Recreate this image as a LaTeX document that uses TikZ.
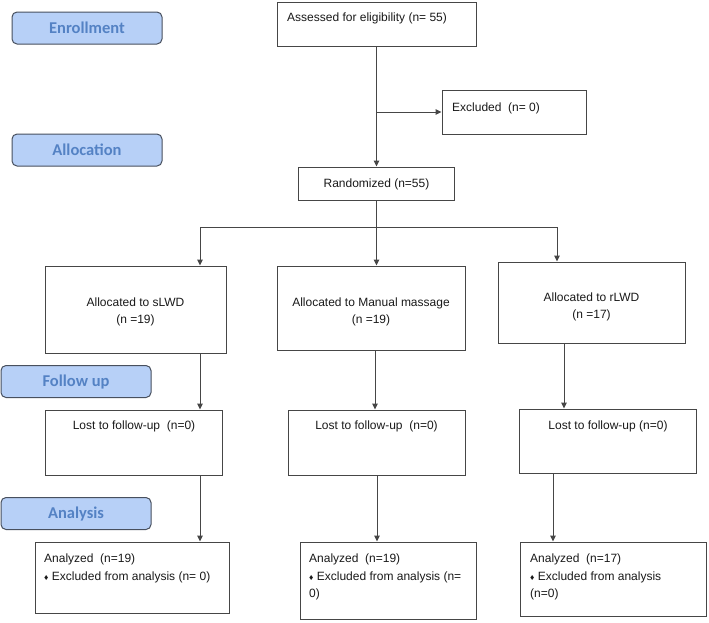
\documentclass[tikz,border=0pt]{standalone}
\usepackage{fontspec}
\setmainfont{Liberation Sans}
\newfontfamily\stagefont{Carlito}
\usetikzlibrary{arrows.meta}
\definecolor{lblfill}{RGB}{183,208,247}
\definecolor{lbltext}{RGB}{84,130,196}
\definecolor{lbldraw}{RGB}{72,80,94}
\definecolor{boxdraw}{RGB}{70,70,70}
\definecolor{txtcol}{RGB}{25,25,25}
\newcommand{\dmd}{{\fontsize{8.5}{8.5}\selectfont ♦}}
\begin{document}
\begin{tikzpicture}[x=1pt,y=-1pt,
  stage/.style={draw=lbldraw, fill=lblfill, rounded corners=5pt, line width=1pt,
    minimum width=150pt, minimum height=32pt, inner sep=0pt,
    font=\stagefont\bfseries\fontsize{16.5}{18}\selectfont, text=lbltext},
  box/.style={draw=boxdraw, line width=1pt, inner sep=0pt},
  txt/.style={font=\fontsize{12}{17}\selectfont, inner sep=0pt, text=txtcol},
  ctxt/.style={txt, anchor=base},
  ltxt/.style={txt, anchor=base west},
  arr/.style={draw=boxdraw, line width=1pt, -{Triangle[length=6pt,width=5.5pt]}},
  ln/.style={draw=boxdraw, line width=1pt}]
\useasboundingbox (0,0) rectangle (709,622);

% stage labels
\node[stage] (enroll) at (87,28) {Enrollment};
\node[stage] (alloc) at (87,150) {Allocation};
\node[stage] (follow) at (76,381.5) {Follow up};
\node[stage] (analysis) at (76,513.5) {Analysis};

% boxes
\node[box, minimum width=199pt, minimum height=44pt] (assess) at (376.5,24) {};
\node[box, minimum width=144pt, minimum height=44pt] (excl) at (514,112) {};
\node[box, minimum width=156pt, minimum height=33pt] (rand) at (376.5,183.5) {};
\node[box, minimum width=181pt, minimum height=87pt] (slwd) at (135.5,309.5) {};
\node[box, minimum width=188pt, minimum height=84pt] (man) at (371,308) {};
\node[box, minimum width=187pt, minimum height=81pt] (rlwd) at (591.5,302.5) {};
\node[box, minimum width=177pt, minimum height=65pt] (lost1) at (133.5,442.5) {};
\node[box, minimum width=177pt, minimum height=65pt] (lost2) at (376.5,442.5) {};
\node[box, minimum width=177pt, minimum height=64pt] (lost3) at (607.5,441) {};
\node[box, minimum width=194pt, minimum height=71pt] (an1) at (132,577.5) {};
\node[box, minimum width=176pt, minimum height=77pt] (an2) at (388,580.5) {};
\node[box, minimum width=186pt, minimum height=74pt] (an3) at (613,579) {};

% texts
\node[ltxt] (tassess) at (287,21) {Assessed for eligibility (n= 55)};
\node[ltxt] (texcl) at (452,111) {Excluded~~(n= 0)};
\node[ctxt] (trand) at (376.5,187) {Randomized (n=55)};
\node[ctxt] (ts1) at (135.5,306) {Allocated to sLWD};
\node[ctxt] (ts2) at (135.5,323) {(n =19)};
\node[ctxt] (tm1) at (371,306) {Allocated to Manual massage};
\node[ctxt] (tm2) at (371,323) {(n =19)};
\node[ctxt] (tr1) at (591.5,301) {Allocated to rLWD};
\node[ctxt] (tr2) at (591.5,318) {(n =17)};
\node[ctxt] (tl1) at (134,429) {Lost to follow-up~~(n=0)};
\node[ctxt] (tl2) at (376.5,429) {Lost to follow-up~~(n=0)};
\node[ctxt] (tl3) at (608,429) {Lost to follow-up (n=0)};
\node[ltxt] (ta11) at (44,562) {Analyzed~~(n=19)};
\node[ltxt] (ta12) at (44,580) {\dmd{} Excluded from analysis (n= 0)};
\node[ltxt] (ta21) at (309,562) {Analyzed~~(n=19)};
\node[ltxt] (ta22) at (309,580) {\dmd{} Excluded from analysis (n=};
\node[ltxt] (ta23) at (309,597) {0)};
\node[ltxt] (ta31) at (530,562) {Analyzed~~(n=17)};
\node[ltxt] (ta32) at (530,580) {\dmd{} Excluded from analysis};
\node[ltxt] (ta33) at (530,597) {(n=0)};

% connector helper coordinates
\coordinate (br) at (376.5,112);
\coordinate (sp) at (376.5,227);
\coordinate (xl) at (200,227);
\coordinate (xr) at (557,227);
\coordinate (xm1) at (375,0);
\coordinate (xm2) at (377,0);
\coordinate (xr1) at (564,0);
\coordinate (xr2) at (553,0);

% connectors
\draw[arr] (assess) -- (rand);
\draw[arr] (br) -- (excl.west);
\draw[ln] (rand.south) -- (sp);
\draw[ln] (xl) -- (xr);
\draw[arr] (xl) -- (xl |- slwd.north);
\draw[arr] (sp) -- (sp |- man.north);
\draw[arr] (xr) -- (xr |- rlwd.north);
\draw[arr] (slwd.south -| xl) -- (lost1.north -| xl);
\draw[arr] (man.south -| xm1) -- (lost2.north -| xm1);
\draw[arr] (rlwd.south -| xr1) -- (lost3.north -| xr1);
\draw[arr] (lost1.south -| xl) -- (an1.north -| xl);
\draw[arr] (lost2.south -| xm2) -- (an2.north -| xm2);
\draw[arr] (lost3.south -| xr2) -- (an3.north -| xr2);
\end{tikzpicture}
\end{document}
